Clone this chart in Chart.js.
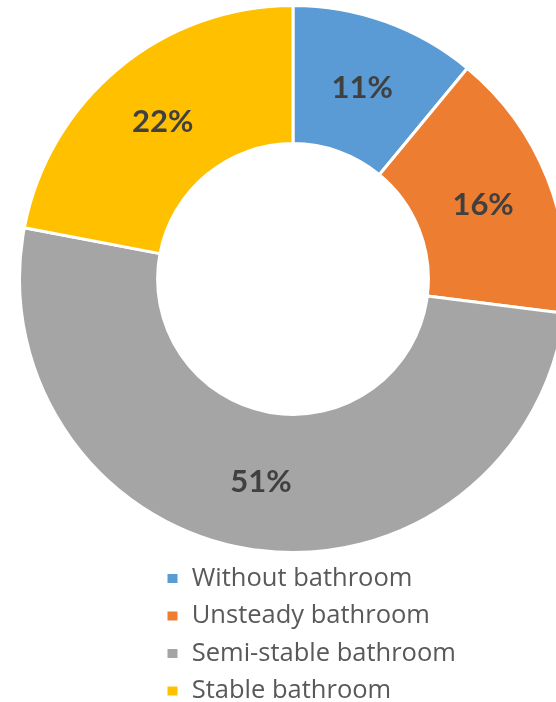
<!DOCTYPE html>
<html>
<head>
<meta charset="utf-8">
<script src="https://cdn.jsdelivr.net/npm/chart.js@4"></script>
<style>
  html, body { margin: 0; padding: 0; background: #fff; overflow: hidden; }
  #wrap { width: 556px; height: 702px; position: relative; }
</style>
</head>
<body>
<div id="wrap"><canvas id="bathrooms"></canvas></div>
<script>
const categories = ["Without bathroom", "Unsteady bathroom", "Semi-stable bathroom", "Stable bathroom"];
const shares = [11, 16, 51, 22];
const sliceColors = ["#5B9BD5", "#ED7D31", "#A5A5A5", "#FFC000"];

// draws the percent value in the middle of each slice
const sliceLabels = {
  id: "sliceLabels",
  afterDatasetsDraw(chart) {
    const ctx = chart.ctx;
    const meta = chart.getDatasetMeta(0);
    ctx.save();
    ctx.font = "bold 31px Lato";
    ctx.fillStyle = "#404040";
    ctx.textAlign = "center";
    ctx.textBaseline = "middle";
    meta.data.forEach((arc, i) => {
      const p = arc.getCenterPoint();
      ctx.fillText(shares[i] + "%", p.x, p.y + 1);
    });
    ctx.restore();
  },
};

// legend keeps its left edge but may run past the chart area on the right
const legendRoom = {
  id: "legendRoom",
  afterLayout(chart) {
    chart.legend.right = chart.width;
    chart.legend.width = chart.legend.right - chart.legend.left;
  },
};

const ctx = document.getElementById("bathrooms").getContext("2d");
const myChart = new Chart(ctx, {
  type: "doughnut",
  data: {
    labels: categories,
    datasets: [
      {
        data: shares,
        backgroundColor: sliceColors,
        borderColor: "#ffffff",
        borderWidth: 3,
        radius: 273.5,
        clip: false,
      },
    ],
  },
  options: {
    responsive: true,
    maintainAspectRatio: false,
    animation: false,
    cutout: "49.5%",
    layout: {
      padding: { top: 4.25, left: 154, right: 124, bottom: -11.75 },
    },
    plugins: {
      tooltip: { enabled: false },
      legend: {
        position: "bottom",
        align: "start",
        labels: {
          boxWidth: 13,
          boxHeight: 12,
          padding: 12,
          color: "#595959",
          font: { family: "Open Sans", size: 25.5 },
        },
      },
    },
  },
  plugins: [sliceLabels, legendRoom],
});
</script>
</body>
</html>
